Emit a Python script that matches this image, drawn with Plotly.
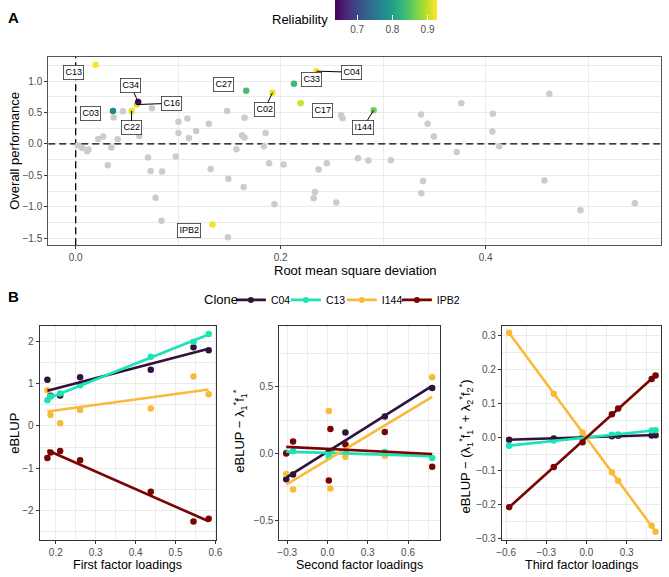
import numpy as np
import plotly.graph_objects as go

W, H = 669, 577
FONT = "Liberation Sans, Arial, sans-serif"
TICKC = "#4D4D4D"

# ---------------- Panel A data ----------------
grey_rmsd = [0.046, 0.0744, 0.037, 0.022, 0.027, 0.041, 0.062, 0.0022, 0.0064, 0.0112,
             0.0125, 0.0348, 0.0313, 0.0706, 0.0731, 0.0843, 0.078, 0.0837, 0.1003, 0.109,
             0.1003, 0.1105, 0.1176, 0.0977, 0.130, 0.1316, 0.1476, 0.149, 0.1485, 0.1648,
             0.1623, 0.1648, 0.1569, 0.1639, 0.1853, 0.1837, 0.1888, 0.2029, 0.1939, 0.259,
             0.2604, 0.237, 0.245, 0.2335, 0.2322, 0.2543, 0.2754, 0.2856, 0.3076, 0.337,
             0.3434, 0.3495, 0.339, 0.3373, 0.3763, 0.3718, 0.407, 0.4066, 0.4133, 0.4622,
             0.4574, 0.4926, 0.5456]
grey_perf = [0.522, 0.57, 0.42, 0.079, 0.12, 0.074, 0.126, -0.026, -0.063, -0.116,
             -0.09, -0.058, -0.338, -0.216, -0.432, -0.438, -0.855, -1.224, 0.353, 0.406,
             0.174, 0.095, 0.206, -0.2, 0.321, -0.4, 0.527, -0.554, -1.487, 0.417,
             0.137, 0.105, -0.085, -0.686, 0.174, -0.037, -0.306, -0.327, -0.96, 0.459,
             0.411, -0.406, -0.306, -0.765, -0.865, -0.934, -0.227, -0.264, -0.259, 0.47,
             0.321, 0.121, -0.591, -0.786, 0.649, -0.127, 0.48, 0.2, -0.037, 0.802,
             -0.58, -1.055, -0.944]

sel_names = ["C13", "C03", "C22", "C16", "C34", "IPB2", "C27", "C02", "C33", "C04", "C17", "I144"]
sel_rmsd = [0.0195, 0.0364, 0.0546, 0.0597, 0.061, 0.1335, 0.1664, 0.192, 0.213, 0.2348, 0.2195, 0.2907]
sel_perf = [1.261, 0.527, 0.527, 0.628, 0.67, -1.282, 0.849, 0.817, 0.96, 1.16, 0.649, 0.538]
sel_reliability = [0.925, 0.77, 0.915, 0.91, 0.645, 0.92, 0.84, 0.92, 0.835, 0.925, 0.905, 0.865]

# ---------------- Panel B data ----------------
clones = ["C04", "C13", "I144", "IPB2"]
clone_colors = ["#30123B", "#1AE4B6", "#FABA39", "#7A0403"]

first_loadings = [0.179, 0.187, 0.211, 0.261, 0.438, 0.545, 0.583]
eblup_C04 = [1.094, 0.711, 0.719, 1.148, 1.328, 1.859, 1.789]
eblup_C13 = [0.609, 0.695, 0.766, 0.961, 1.633, 1.99, 2.17]
eblup_I144 = [0.844, 0.258, 0.0625, 0.375, 0.414, 1.17, 0.75]
eblup_IPB2 = [-0.76, -0.625, -0.594, -0.8125, -1.555, -2.258, -2.195]

second_loadings = [-0.307, -0.256, 0.01, 0.022, 0.134, 0.427, 0.78]
resid1_C04 = [-0.193, -0.158, 0.012, 0.016, 0.156, 0.277, 0.49]
resid1_C13 = [0.005, 0.017, -0.025, 0.02, 0.012, 0.01, -0.035]
resid1_I144 = [-0.153, -0.27, 0.317, -0.262, -0.025, -0.017, 0.569]
resid1_IPB2 = [0.0, 0.089, -0.203, 0.183, 0.067, 0.161, -0.099]

third_loadings = [-0.577, -0.244, -0.029, 0.19, 0.237, 0.487, 0.516]
resid2_C04 = [-0.0078, -0.004, -0.001, 0.003, 0.004, 0.005, 0.006]
resid2_C13 = [-0.0255, -0.0098, -0.002, 0.007, 0.008, 0.0196, 0.0206]
resid2_I144 = [0.309, 0.129, 0.0137, -0.104, -0.129, -0.262, -0.280]
resid2_IPB2 = [-0.207, -0.088, -0.0147, 0.0676, 0.0853, 0.1725, 0.183]

panelB = [
    ("x2", "y2", first_loadings, [eblup_C04, eblup_C13, eblup_I144, eblup_IPB2]),
    ("x3", "y3", second_loadings, [resid1_C04, resid1_C13, resid1_I144, resid1_IPB2]),
    ("x4", "y4", third_loadings, [resid2_C04, resid2_C13, resid2_I144, resid2_IPB2]),
]

A_XRANGE = [-0.0268, 0.5712]
A_YRANGE = [-1.614, 1.392]


def px_x(p):
    return p / W


def px_y(p):
    return 1 - p / H


fig = go.Figure()

# dashed reference lines at zero (panel A)
dash = dict(color="black", width=1.3, dash="7px,4px")
fig.add_trace(go.Scatter(x=[0, 0], y=A_YRANGE, mode="lines", line=dash, showlegend=False,
                         hoverinfo="skip", xaxis="x", yaxis="y"))
fig.add_trace(go.Scatter(x=A_XRANGE, y=[0, 0], mode="lines", line=dash, showlegend=False,
                         hoverinfo="skip", xaxis="x", yaxis="y"))

# Panel A points
fig.add_trace(go.Scatter(x=grey_rmsd, y=grey_perf, mode="markers",
                         marker=dict(color="#CCCCCC", size=6.5, line=dict(width=0)),
                         showlegend=False, hoverinfo="skip", xaxis="x", yaxis="y"))
fig.add_trace(go.Scatter(
    x=sel_rmsd, y=sel_perf, mode="markers", text=sel_names, showlegend=False,
    xaxis="x", yaxis="y",
    marker=dict(color=sel_reliability, colorscale="Viridis", cmin=0.637, cmax=0.927, size=6.5,
                line=dict(width=0),
                colorbar=dict(orientation="h", x=387 / W, xanchor="center", y=1.0, yanchor="top",
                              ypad=0, xpad=0, len=102, lenmode="pixels", thickness=20,
                              outlinewidth=0, tickvals=[0.7, 0.8, 0.9], ticktext=["0.7", "0.8", "0.9"],
                              ticks="inside", tickcolor="white", ticklen=5,
                              tickfont=dict(size=10, color=TICKC, family=FONT)))))

# Panel B points and lm lines
for xa, ya, xs, series in panelB:
    for name, col, ys in zip(clones, clone_colors, series):
        fig.add_trace(go.Scatter(x=xs, y=ys, mode="markers", xaxis=xa, yaxis=ya,
                                 marker=dict(color=col, size=6.5), showlegend=False, hoverinfo="skip"))
    for name, col, ys in zip(clones, clone_colors, series):
        slope, icpt = np.polyfit(xs, ys, 1)
        xl = np.array([min(xs), max(xs)])
        fig.add_trace(go.Scatter(x=xl, y=icpt + slope * xl, mode="lines", xaxis=xa, yaxis=ya,
                                 line=dict(color=col, width=2.6), showlegend=False, hoverinfo="skip"))

# legend entries: one small legend per clone so the keys sit as in the reference
legend_ids = ["legend", "legend2", "legend3", "legend4"]
legend_text_x = [274, 330, 387, 443]
for name, col, lid in zip(clones, clone_colors, legend_ids):
    fig.add_trace(go.Scatter(x=[None], y=[None], mode="lines+markers", name=name, legend=lid,
                             line=dict(color=col, width=2.6), marker=dict(color=col, size=6),
                             xaxis="x2", yaxis="y2", showlegend=True))

GRID = "#EBEBEB"


def axis(domain, rng, tickvals, minor, fmt, linecolor="#333333", anchor=None):
    d = dict(domain=domain, range=rng, tickvals=tickvals, tickformat=fmt, showgrid=True,
             gridcolor=GRID, gridwidth=1.1, zeroline=False, showline=True, mirror=True,
             linecolor=linecolor, linewidth=1, ticks="outside", ticklen=3, tickcolor="#333333",
             tickwidth=1, tickfont=dict(size=10, color=TICKC, family=FONT),
             minor=dict(tickvals=minor, showgrid=True, gridcolor=GRID, gridwidth=0.55, ticks=""))
    if anchor:
        d["anchor"] = anchor
    return d


legend_layout = {}
for lid, tx in zip(legend_ids, legend_text_x):
    legend_layout[lid] = dict(orientation="h", x=px_x(tx - 45), xanchor="left", y=px_y(302),
                              yanchor="middle", font=dict(size=10.5, family=FONT),
                              itemwidth=30, bgcolor="rgba(0,0,0,0)", borderwidth=0)

fig.update_layout(
    width=W, height=H, margin=dict(l=0, r=0, t=0, b=0),
    paper_bgcolor="white", plot_bgcolor="white",
    font=dict(family=FONT, color="black"),
    xaxis=axis([px_x(43), px_x(667)], A_XRANGE, [0, 0.2, 0.4], [0.1, 0.3, 0.5], ".1f",
               "#555555", "y"),
    yaxis=axis([px_y(247), px_y(57)], A_YRANGE, [-1.5, -1, -0.5, 0, 0.5, 1.0],
               [-1.25, -0.75, -0.25, 0.25, 0.75, 1.25], ".1f", "#555555", "x"),
    xaxis2=axis([px_x(34.3), px_x(214.3)], [0.1597, 0.6025], [0.2, 0.3, 0.4, 0.5, 0.6],
                [0.25, 0.35, 0.45, 0.55], ".1f", anchor="y2"),
    yaxis2=axis([px_y(544), px_y(328)], [-2.70, 2.368], [-2, -1, 0, 1, 2],
                [-2.5, -1.5, -0.5, 0.5, 1.5], "d", anchor="x2"),
    xaxis3=axis([px_x(278.3), px_x(441.5)], [-0.3585, 0.835], [-0.3, 0.0, 0.3, 0.6],
                [-0.15, 0.15, 0.45, 0.75], ".1f", anchor="y3"),
    yaxis3=axis([px_y(544), px_y(328)], [-0.649, 0.955], [-0.5, 0.0, 0.5],
                [-0.25, 0.25, 0.75], ".1f", anchor="x3"),
    xaxis4=axis([px_x(505), px_x(667)], [-0.631, 0.557], [-0.6, -0.3, 0.0, 0.3],
                [-0.45, -0.15, 0.15, 0.45], ".1f", anchor="y4"),
    yaxis4=axis([px_y(544), px_y(328)], [-0.305, 0.330], [-0.3, -0.2, -0.1, 0.0, 0.1, 0.2, 0.3],
                [-0.25, -0.15, -0.05, 0.05, 0.15, 0.25], ".1f", anchor="x4"),
    **legend_layout,
)

# repelled labels: (dx px, dy px (down positive), connector)
label_offsets = {
    "C13": (-22, 7.4, False), "C03": (-22, 2.6, False), "C34": (-7.4, -16, True),
    "C16": (35, -1.3, True), "C22": (-0.3, 17, True), "IPB2": (-23.3, 5.7, False),
    "C27": (-22.7, -6.3, False), "C02": (-8, 17, True), "C33": (17.4, -4.6, False),
    "C04": (35.3, 1, True), "C17": (22.3, 7, False), "I144": (-10.6, 17.3, True),
}
for nm, xv, yv in zip(sel_names, sel_rmsd, sel_perf):
    dx, dy, conn = label_offsets[nm]
    common = dict(x=xv, y=yv, xref="x", yref="y", text=nm,
                  font=dict(size=9, family=FONT, color="black"),
                  bgcolor="white", bordercolor="#333333", borderwidth=0.8, borderpad=1.6)
    if conn:
        fig.add_annotation(**common, showarrow=True, ax=dx, ay=dy, arrowhead=0, arrowwidth=1,
                           arrowcolor="black", standoff=0)
    else:
        fig.add_annotation(**common, showarrow=False, xshift=dx, yshift=-dy)


def txt(text, x, y, size=13, angle=0, bold=False, xanchor="center"):
    fig.add_annotation(text=f"<b>{text}</b>" if bold else text, x=px_x(x), y=px_y(y),
                       xref="paper", yref="paper", showarrow=False, textangle=angle,
                       xanchor=xanchor, yanchor="middle", font=dict(size=size, family=FONT, color="black"))


txt("A", 8, 18, 15, bold=True)
txt("B", 8, 299, 15, bold=True)
txt("Reliability", 330, 20, 13, xanchor="right")
txt("Clone", 238, 302, 13, xanchor="right")
txt("Overall performance", 9, 152, 13, angle=-90)
txt("Root mean square deviation", 356, 272, 13)
txt("eBLUP", 9, 436, 13, angle=-90)
txt("First factor loadings", 124, 568.5, 12.5)
txt("eBLUP − λ<sub>1</sub><sup>*</sup>f<sub>1</sub><sup>*</sup>", 238, 434, 13, angle=-90)
txt("Second factor loadings", 360, 568.5, 12.5)
txt("eBLUP − (λ<sub>1</sub><sup>*</sup>f<sub>1</sub><sup>*</sup> + λ<sub>2</sub><sup>*</sup>f<sub>2</sub><sup>*</sup>)",
    468, 450, 13, angle=-90)
txt("Third factor loadings", 586, 568.5, 12.5)

fig.write_html("out.html", config={"displayModeBar": False},
               post_script="document.body.style.margin='0px';")
